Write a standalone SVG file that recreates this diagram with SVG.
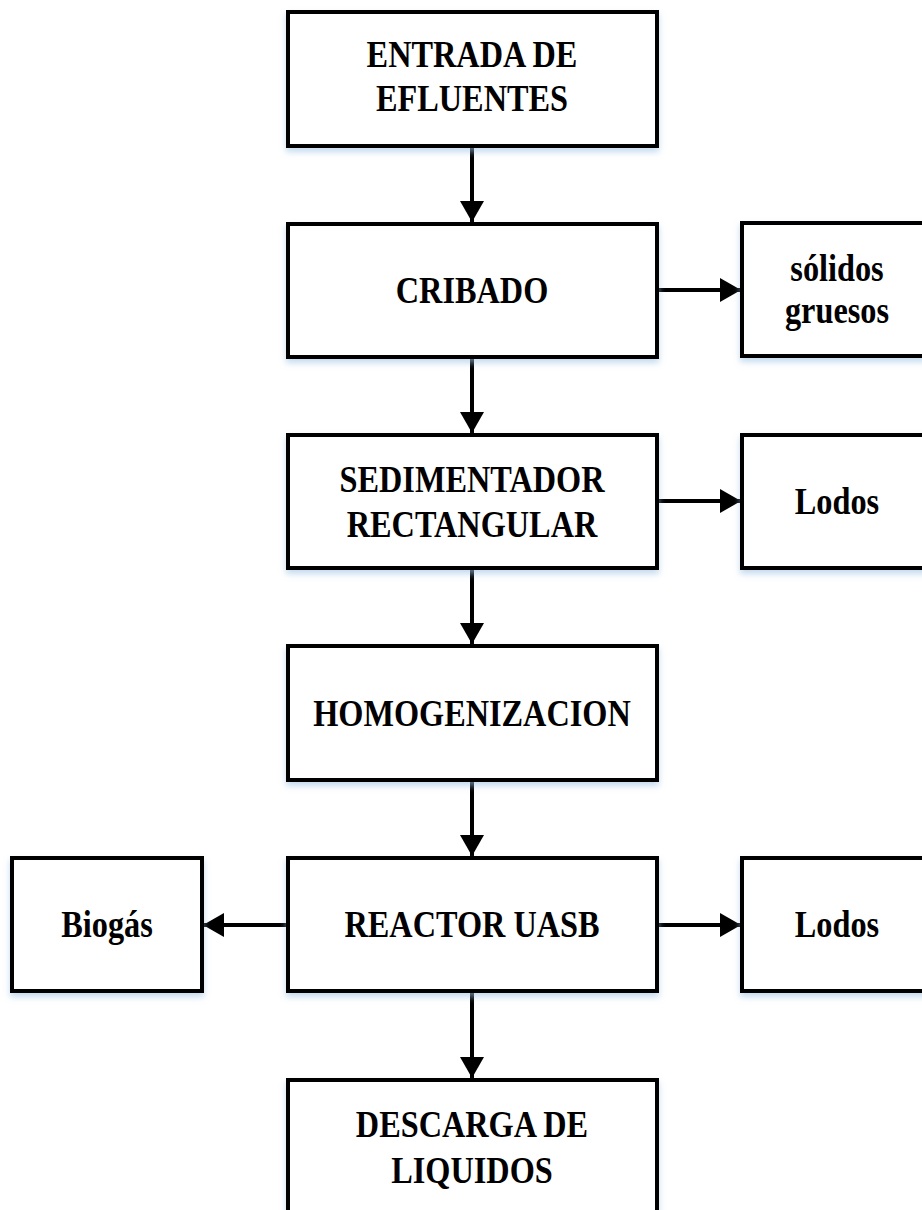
<svg xmlns="http://www.w3.org/2000/svg" width="922" height="1210" viewBox="0 0 922 1210">
<style>
.box{fill:#fff;stroke:#000;stroke-width:4;filter:url(#sh)}
.t{font-family:"Liberation Serif","Times New Roman",serif;font-weight:bold;font-size:38px;fill:#000;text-anchor:middle}
.c{stroke:#000;stroke-width:4;fill:none;marker-end:url(#ah)}
</style>
<defs>
<filter id="sh" x="-10%" y="-10%" width="120%" height="130%">
<feDropShadow dx="0" dy="4" stdDeviation="3" flood-color="#9dc3e6" flood-opacity="0.6"/>
</filter>
<marker id="ah" markerUnits="userSpaceOnUse" markerWidth="22" markerHeight="24" refX="21" refY="12" orient="auto">
<polygon points="0,0 21,12 0,24" fill="#000"/>
</marker>
</defs>
<g id="connectors">
<line class="c" x1="472" y1="146" x2="472" y2="222"/>
<line class="c" x1="472" y1="357" x2="472" y2="433"/>
<line class="c" x1="472" y1="568" x2="472" y2="644"/>
<line class="c" x1="472" y1="780" x2="472" y2="856"/>
<line class="c" x1="472" y1="991" x2="472" y2="1078"/>
<line class="c" x1="657" y1="290" x2="741" y2="290"/>
<line class="c" x1="657" y1="501" x2="741" y2="501"/>
<line class="c" x1="657" y1="925" x2="741" y2="925"/>
<line class="c" x1="288" y1="925" x2="203" y2="925"/>
</g>
<g id="entrada">
<rect class="box" x="288" y="12" width="369" height="134"/>
<text class="t" transform="translate(472,67) scale(0.85,1)">ENTRADA DE</text>
<text class="t" transform="translate(472,111) scale(0.85,1)">EFLUENTES</text>
</g>
<g id="cribado">
<rect class="box" x="288" y="224" width="369" height="133"/>
<text class="t" transform="translate(472,303) scale(0.85,1)">CRIBADO</text>
</g>
<g id="solidos">
<rect class="box" x="742" y="223" width="190" height="133"/>
<text class="t" transform="translate(837,281) scale(0.85,1)">sólidos</text>
<text class="t" transform="translate(837,323) scale(0.85,1)">gruesos</text>
</g>
<g id="sedimentador">
<rect class="box" x="288" y="435" width="369" height="133"/>
<text class="t" transform="translate(472,492) scale(0.85,1)">SEDIMENTADOR</text>
<text class="t" transform="translate(472,537) scale(0.85,1)">RECTANGULAR</text>
</g>
<g id="lodos1">
<rect class="box" x="742" y="435" width="190" height="133"/>
<text class="t" transform="translate(837,514) scale(0.85,1)">Lodos</text>
</g>
<g id="homogenizacion">
<rect class="box" x="288" y="646" width="369" height="134"/>
<text class="t" transform="translate(472,726) scale(0.85,1)">HOMOGENIZACION</text>
</g>
<g id="reactor">
<rect class="box" x="288" y="858" width="369" height="133"/>
<text class="t" transform="translate(472,937) scale(0.85,1)">REACTOR UASB</text>
</g>
<g id="biogas">
<rect class="box" x="12" y="858" width="190" height="133"/>
<text class="t" transform="translate(107,937) scale(0.85,1)">Biogás</text>
</g>
<g id="lodos2">
<rect class="box" x="742" y="858" width="190" height="133"/>
<text class="t" transform="translate(837,937) scale(0.85,1)">Lodos</text>
</g>
<g id="descarga">
<rect class="box" x="288" y="1080" width="369" height="160"/>
<text class="t" transform="translate(472,1137) scale(0.85,1)">DESCARGA DE</text>
<text class="t" transform="translate(472,1183) scale(0.85,1)">LIQUIDOS</text>
</g>
</svg>
